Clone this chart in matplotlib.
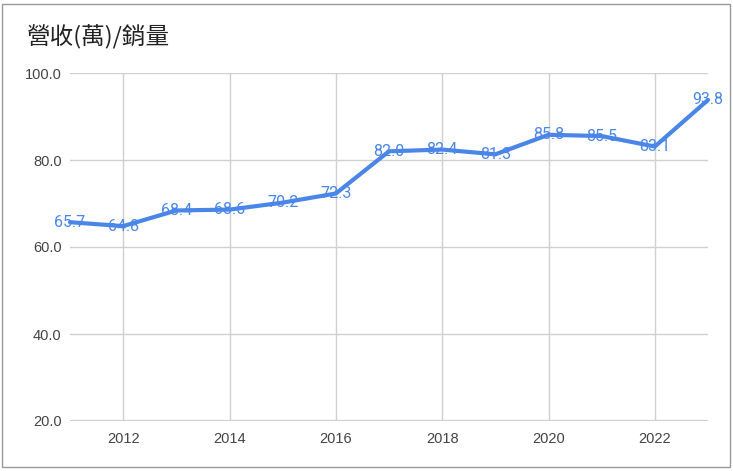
import matplotlib
matplotlib.use("Agg")
import matplotlib.pyplot as plt
from matplotlib.patches import Rectangle

years = [2011, 2012, 2013, 2014, 2015, 2016, 2017, 2018, 2019, 2020, 2021, 2022, 2023]
values = [65.7, 64.8, 68.4, 68.6, 70.2, 72.3, 82.0, 82.4, 81.3, 85.8, 85.5, 83.1, 93.8]
xticks = [2012, 2014, 2016, 2018, 2020, 2022]
yticks = [20, 40, 60, 80, 100]
title = "營收(萬)/銷量"

plt.rcParams['font.family'] = ['Liberation Sans', 'Noto Sans CJK TC', 'DejaVu Sans']

fig = plt.figure(figsize=(7.33, 4.71), dpi=100)
ax = fig.add_axes([70/733, 1-421/471, (708-70)/733, (421-73)/471])

line_color = '#4a86e8'
ax.plot(years, values, color=line_color, linewidth=3, solid_capstyle='round', zorder=3,
        clip_on=False)
for x, v in zip(years, values):
    ax.text(x, v, f"{v:.1f}", ha='center', va='center', color=line_color,
            fontsize=11.5, family=['Roboto', 'DejaVu Sans'], zorder=4)

ax.set_xlim(2011, 2023)
ax.set_ylim(20, 100)
ax.set_xticks(xticks)
ax.set_yticks(yticks)
ax.set_yticklabels([f"{t:.1f}" for t in yticks])
ax.grid(True, color='#d0d0d0', linewidth=1)
ax.set_axisbelow(True)
for s in ax.spines.values():
    s.set_visible(False)
ax.axhline(20, color='#d0d0d0', linewidth=1.6, zorder=1)
ax.tick_params(axis='both', length=0, labelsize=10.5, colors='#444444')
ax.tick_params(axis='y', pad=6)
ax.tick_params(axis='x', pad=8)

fig.text(27/733, 1-37/471, title, fontsize=17, color='#222222', va='center', ha='left',
         family=['Noto Sans CJK TC', 'DejaVu Sans'])

fig.patches.append(Rectangle((2/733, 4/471), (730-2)/733, (467-4)/471, transform=fig.transFigure,
                             fill=False, edgecolor='#999999', linewidth=1))

fig.savefig("out.png", dpi=100)
